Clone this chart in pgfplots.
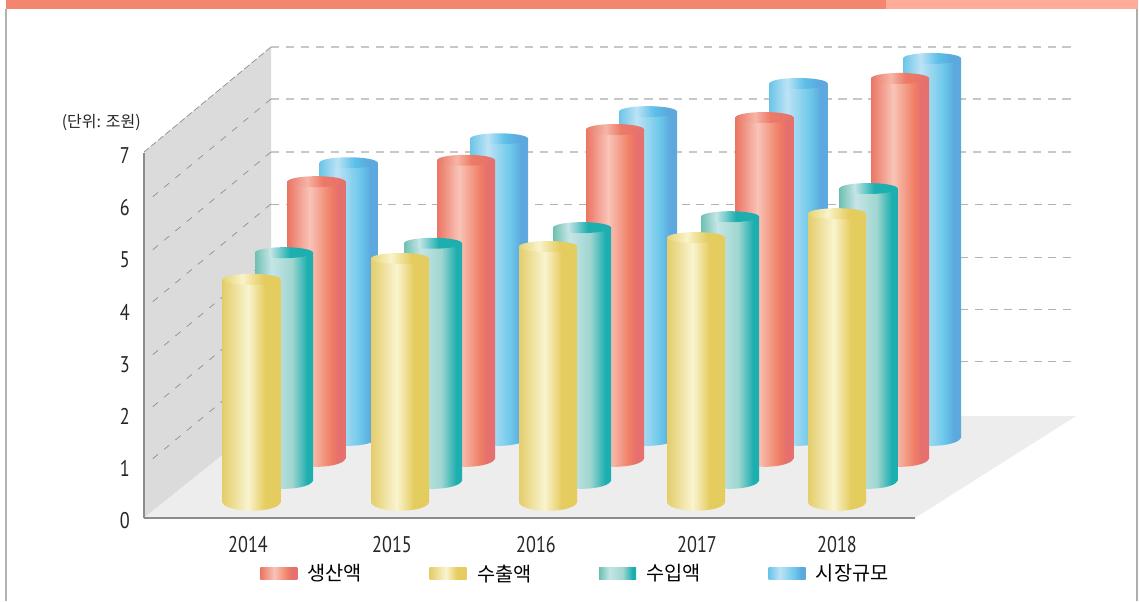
\documentclass[border=0pt]{standalone}
\usepackage{fontspec}
\usepackage{pgfplots}
\pgfplotsset{compat=1.18}
\setmainfont[FakeStretch=0.8]{PT Sans}
\newfontfamily\kr{Noto Sans CJK KR}

% colours of the cylinders, left to right
\pgfdeclarehorizontalshading{redbody}{100bp}{color(0bp)=(rgb,255:red,236;green,117;blue,99);color(25bp)=(rgb,255:red,236;green,117;blue,99);color(44bp)=(rgb,255:red,248;green,196;blue,184);color(62bp)=(rgb,255:red,240;green,127;blue,101);color(68bp)=(rgb,255:red,229;green,112;blue,110);color(100bp)=(rgb,255:red,229;green,112;blue,110)}
\pgfdeclarehorizontalshading{redtop}{100bp}{color(0bp)=(rgb,255:red,232;green,120;blue,104);color(25bp)=(rgb,255:red,232;green,120;blue,104);color(42bp)=(rgb,255:red,246;green,181;blue,166);color(55bp)=(rgb,255:red,236;green,122;blue,102);color(75bp)=(rgb,255:red,229;green,112;blue,110);color(100bp)=(rgb,255:red,229;green,112;blue,110)}
\pgfdeclarehorizontalshading{yelbody}{100bp}{color(0bp)=(rgb,255:red,228;green,205;blue,106);color(25bp)=(rgb,255:red,228;green,205;blue,106);color(47bp)=(rgb,255:red,249;green,244;blue,208);color(62bp)=(rgb,255:red,229;green,204;blue,94);color(100bp)=(rgb,255:red,229;green,204;blue,94)}
\pgfdeclarehorizontalshading{yeltop}{100bp}{color(0bp)=(rgb,255:red,230;green,212;blue,116);color(25bp)=(rgb,255:red,230;green,212;blue,116);color(42bp)=(rgb,255:red,249;green,243;blue,203);color(60bp)=(rgb,255:red,229;green,204;blue,94);color(100bp)=(rgb,255:red,229;green,204;blue,94)}
\pgfdeclarehorizontalshading{teabody}{100bp}{color(0bp)=(rgb,255:red,111;green,192;blue,178);color(25bp)=(rgb,255:red,111;green,192;blue,178);color(39bp)=(rgb,255:red,197;green,229;blue,230);color(57bp)=(rgb,255:red,160;green,214;blue,208);color(70bp)=(rgb,255:red,29;green,174;blue,175);color(100bp)=(rgb,255:red,29;green,174;blue,175)}
\pgfdeclarehorizontalshading{teatop}{100bp}{color(0bp)=(rgb,255:red,111;green,192;blue,178);color(25bp)=(rgb,255:red,111;green,192;blue,178);color(38bp)=(rgb,255:red,197;green,229;blue,230);color(55bp)=(rgb,255:red,29;green,175;blue,175);color(100bp)=(rgb,255:red,29;green,175;blue,175)}
\pgfdeclarehorizontalshading{blubody}{100bp}{color(0bp)=(rgb,255:red,108;green,197;blue,232);color(25bp)=(rgb,255:red,108;green,197;blue,232);color(40bp)=(rgb,255:red,189;green,226;blue,245);color(60bp)=(rgb,255:red,108;green,200;blue,234);color(69bp)=(rgb,255:red,92;green,168;blue,223);color(100bp)=(rgb,255:red,92;green,168;blue,223)}
\pgfdeclarehorizontalshading{blutop}{100bp}{color(0bp)=(rgb,255:red,108;green,197;blue,232);color(25bp)=(rgb,255:red,108;green,197;blue,232);color(40bp)=(rgb,255:red,187;green,226;blue,245);color(55bp)=(rgb,255:red,92;green,192;blue,232);color(67bp)=(rgb,255:red,92;green,168;blue,223);color(100bp)=(rgb,255:red,92;green,168;blue,223)}

% one picture pixel is 0.75pt
\newcommand{\cylmarks}[1]{%
 \pgfdeclareplotmark{#1t}{\pgfpathellipse{\pgfpointorigin}{\pgfqpoint{21.75pt}{0pt}}{\pgfqpoint{0pt}{4.1pt}}\pgfshadepath{#1top}{0}\pgfusepath{discard}}%
 \pgfdeclareplotmark{#1b}{\pgfpathellipse{\pgfpointorigin}{\pgfqpoint{21.75pt}{0pt}}{\pgfqpoint{0pt}{6.6pt}}\pgfshadepath{#1body}{0}\pgfusepath{discard}}%
}
\cylmarks{red}\cylmarks{yel}\cylmarks{tea}\cylmarks{blu}

% #1 colour, #2 lift of the series base in pt, #3 x, #4 value
% each bar is its own plot, or the shading runs across the whole series
\newcommand{\cyl}[4]{%
 \addplot[forget plot,only marks,mark=#1b,yshift=#2pt] coordinates {(#3,0)};
 \addplot[forget plot,ybar,bar width=43.5pt,draw=none,shading=#1body,yshift=#2pt] coordinates {(#3,#4)};
 \addplot[forget plot,only marks,mark=#1t,yshift=#2pt] coordinates {(#3,#4)};
}
\newcommand{\swatch}[1]{\addlegendimage{legend image code/.code={\shade[shading=#1body,draw=none] (0pt,-4.5pt) rectangle (27.75pt,4.5pt);}}}

\begin{document}
\begin{tikzpicture}
\useasboundingbox (0,0) rectangle (854.25pt,450.75pt);
\begin{scope}[shift={(0,450.75pt)},x=0.75pt,y=-0.75pt]
 % frame
 \fill[white] (0,0) rectangle (1139,601);
 \fill[black!30] (5,9) rectangle (7,601);
 \fill[black!32] (1136,9) rectangle (1138,601);
 \fill[fill={rgb,255:red,242;green,134;blue,111}] (6,0) rectangle (886,9.5);
 \fill[fill={rgb,255:red,255;green,173;blue,152}] (886,0) rectangle (1138,9.5);
 % walls and floor
 \fill[black!14] (144,152) -- (271,47) -- (271,416) -- (144,518) -- cycle;
 \fill[black!7] (144,518) -- (271,416) -- (1076,416) -- (915,518) -- cycle;
 % grid lines
 \foreach \gy in {47,99,152} {
  \draw[black!22,line width=0.9pt,dash pattern=on 6.2pt off 5pt] (271,\gy) -- (1076,\gy);
 }
 \foreach \gy in {204,257,309,361} {
  \draw[black!30,line width=0.6pt,dash pattern=on 6pt off 5pt] (271,\gy) -- (1076,\gy);
 }
 \draw[black!45,line width=0.5pt,dash pattern=on 5pt off 2pt] (271,47) -- (144,152);
 \foreach \gy in {99,152,204,257,309,361} {
  \draw[black!45,line width=0.5pt,dash pattern=on 5pt off 6pt] (271,\gy) -- (150,\gy+100);
 }
 \node[anchor=east,inner sep=0pt,text=black!85,font=\fontsize{12}{14}\selectfont\kr] at (141,122) {(단위: 조원)};
\end{scope}
\begin{axis}[
 at={(108pt,62.25pt)},anchor=south west,
 scale only axis,width=578.25pt,height=273.75pt,
 xmin=144,xmax=915,ymin=0,ymax=7,
 axis x line=bottom,axis y line=left,
 axis line style={-,black!45,line width=1pt},
 tick style={draw=none},
 clip=false,
 clip mode=individual,
 ytick={0,1,2,3,4,5,6,7},
 xtick={248,392,536,697,837},
 xticklabels={2014,2015,2016,2017,2018},
 /pgf/number format/assume math mode=true,
 tick label style={font=\fontsize{17}{20}\selectfont,black!85},
 yticklabel style={xshift=-5pt,yshift=-2pt},
 xticklabel style={yshift=-8pt},
 legend columns=4,
 legend cell align=left,
 legend style={at={(axis cs:260,-1.07)},anchor=west,draw=none,fill=none,inner sep=0pt,
  font=\fontsize{14.8}{17}\selectfont\kr,column sep=0pt,
  /tikz/every odd column/.append style={column sep=5.75pt},
  /tikz/every even column/.append style={column sep=48.75pt}},
]
% market size, back row
\cyl{blu}{60.75}{348.5}{5.26}
\cyl{blu}{60.75}{499}{5.72}
\cyl{blu}{60.75}{648}{6.24}
\cyl{blu}{60.75}{798.5}{6.78}
\cyl{blu}{60.75}{932}{7.26}
% production
\cyl{red}{45}{316.5}{5.30}
\cyl{red}{45}{466}{5.71}
\cyl{red}{45}{615}{6.30}
\cyl{red}{45}{764.5}{6.53}
\cyl{red}{45}{900}{7.28}
% imports
\cyl{tea}{28.5}{284}{4.36}
\cyl{tea}{28.5}{433}{4.54}
\cyl{tea}{28.5}{582}{4.84}
\cyl{tea}{28.5}{730}{5.05}
\cyl{tea}{28.5}{868.5}{5.59}
% exports, front row
\cyl{yel}{12}{251.5}{4.27}
\cyl{yel}{12}{400}{4.67}
\cyl{yel}{12}{548}{4.90}
\cyl{yel}{12}{696}{5.07}
\cyl{yel}{12}{837}{5.53}
\swatch{red}\addlegendentry{생산액}
\swatch{yel}\addlegendentry{수출액}
\swatch{tea}\addlegendentry{수입액}
\swatch{blu}\addlegendentry{시장규모}
\end{axis}
\end{tikzpicture}
\end{document}
